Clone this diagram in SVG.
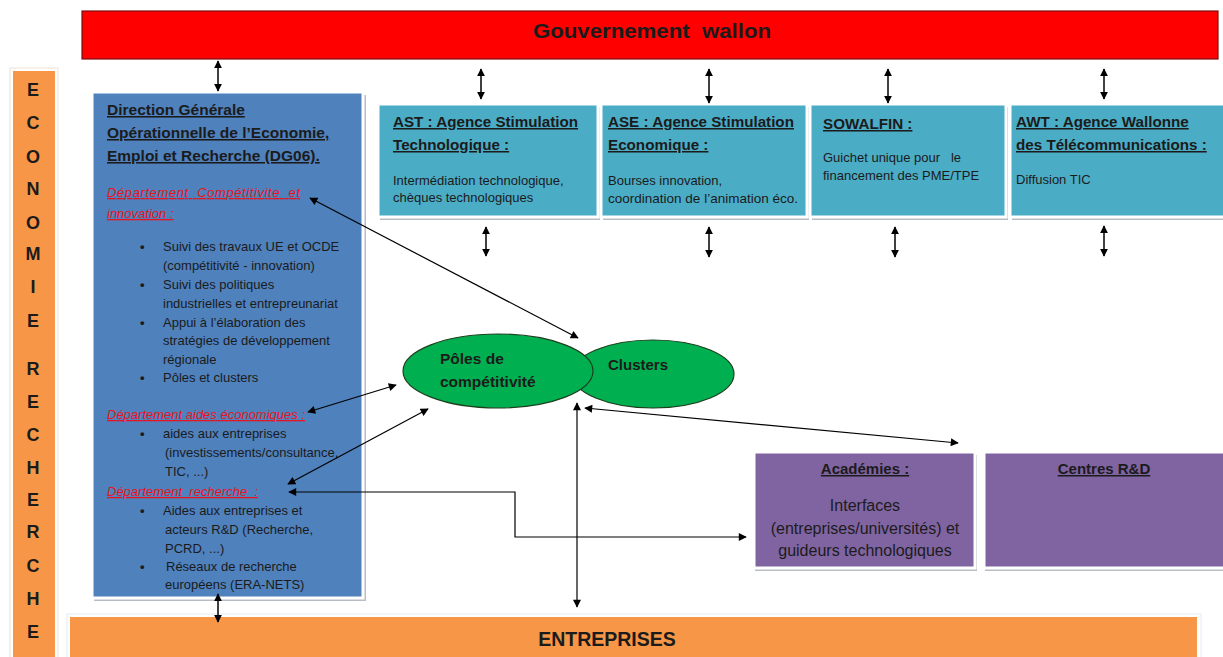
<svg xmlns="http://www.w3.org/2000/svg" width="1223" height="657" viewBox="0 0 1223 657">
<defs>
<marker id="ah" viewBox="0 0 10 10" refX="9" refY="5" markerWidth="9" markerHeight="8" markerUnits="userSpaceOnUse" orient="auto-start-reverse">
<path d="M0,0 L10,5 L0,10 z" fill="#000"/>
</marker>
<marker id="ahs" viewBox="0 0 10 10" refX="9" refY="5" markerWidth="8" markerHeight="8" markerUnits="userSpaceOnUse" orient="auto-start-reverse">
<path d="M0,0 L10,5 L0,10 z" fill="#000"/>
</marker>
</defs>
<style>
text{font-family:"Liberation Sans",Arial,sans-serif;fill:#1b1b1b}
.t{font-weight:bold;font-size:15.5px;text-decoration:underline}
.tc{font-weight:bold;font-size:15.2px;text-decoration:underline}
.b{font-size:13px}
.d{font-size:13px;font-weight:bold}
.s{font-size:13px}
.r{font-size:13px;font-style:italic;fill:#e8141e;text-decoration:underline}
.L{font-weight:bold;font-size:18px;text-anchor:middle}
.shadow{fill:#b8bcc4}
.cy{fill:#4bacc6;stroke:#fff;stroke-width:3}
.pu{fill:#8064a2;stroke:#fff;stroke-width:3}
.c{fill:none;stroke:#000;stroke-width:1.2;marker-start:url(#ah);marker-end:url(#ah)}
.v{fill:none;stroke:#000;stroke-width:1.5;marker-start:url(#ahs);marker-end:url(#ahs)}
.el{fill:#00b050;stroke:#1e3f1e;stroke-width:1.2}
</style>
<rect width="1223" height="657" fill="#fff"/>

<g id="gouvernement">
<rect x="82" y="11" width="1136" height="48" fill="#ff0000" stroke="#7a1010" stroke-width="1.2"/>
<text x="533" y="38" font-size="20" font-weight="bold" fill="#3a0606" textLength="238" lengthAdjust="spacingAndGlyphs" xml:space="preserve">Gouvernement  wallon</text>
</g>

<g id="economie-recherche">
<rect x="10" y="68" width="48" height="592" fill="#fff" stroke="#f2e2d2" stroke-width="1"/>
<rect x="13" y="71" width="42" height="590" fill="#f79646"/>
<text class="L" x="33" y="96">E</text>
<text class="L" x="33" y="129">C</text>
<text class="L" x="33" y="163">O</text>
<text class="L" x="33" y="195">N</text>
<text class="L" x="33" y="229">O</text>
<text class="L" x="33" y="260">M</text>
<text class="L" x="33" y="293">I</text>
<text class="L" x="33" y="327">E</text>
<text class="L" x="33" y="375">R</text>
<text class="L" x="33" y="408">E</text>
<text class="L" x="33" y="441">C</text>
<text class="L" x="33" y="474">H</text>
<text class="L" x="33" y="506">E</text>
<text class="L" x="33" y="538">R</text>
<text class="L" x="33" y="572">C</text>
<text class="L" x="33" y="605">H</text>
<text class="L" x="33" y="638">E</text>
</g>

<g id="dg06">
<rect class="shadow" x="94" y="95" width="272" height="506"/>
<rect x="92" y="92" width="271" height="506" fill="#4f81bd" stroke="#fff" stroke-width="3"/>
<text class="t" x="107" y="115">Direction Générale</text>
<text class="t" x="107" y="138">Opérationnelle de l’Economie,</text>
<text class="t" x="107" y="161">Emploi et Recherche (DG06).</text>
<text class="r" x="107" y="197" textLength="193" lengthAdjust="spacing" xml:space="preserve">Département  Compétitivite  et</text>
<text class="r" x="107" y="218">innovation :</text>
<g class="b">
<text class="d" x="140" y="251">•</text><text x="163" y="251">Suivi des travaux UE et OCDE</text>
<text x="163" y="270">(compétitivité - innovation)</text>
<text class="d" x="140" y="289">•</text><text x="163" y="289">Suivi des politiques</text>
<text x="163" y="308">industrielles et entrepreunariat</text>
<text class="d" x="140" y="327">•</text><text x="163" y="327">Appui à l’élaboration des</text>
<text x="163" y="345">stratégies de développement</text>
<text x="163" y="364">régionale</text>
<text class="d" x="140" y="382">•</text><text x="163" y="382">Pôles et clusters</text>
</g>
<text class="r" x="107" y="419" textLength="198" lengthAdjust="spacing">Département aides économiques :</text>
<g class="b">
<text class="d" x="140" y="438">•</text><text x="163" y="438">aides aux entreprises</text>
<text x="165" y="457">(investissements/consultance,</text>
<text x="165" y="476">TIC, ...)</text>
</g>
<text class="r" x="107" y="496" xml:space="preserve">Département  recherche  :</text>
<g class="b">
<text class="d" x="140" y="515">•</text><text x="163" y="515">Aides aux entreprises et</text>
<text x="165" y="534">acteurs R&amp;D (Recherche,</text>
<text x="165" y="553">PCRD, ...)</text>
<text class="d" x="140" y="571">•</text><text x="166" y="571">Réseaux de recherche</text>
<text x="165" y="589">européens (ERA-NETS)</text>
</g>
</g>

<g id="ast">
<rect class="shadow" x="380" y="107" width="220" height="113"/>
<rect class="cy" x="378" y="104" width="220" height="113"/>
<text class="tc" x="393" y="127">AST : Agence Stimulation</text>
<text class="tc" x="393" y="150">Technologique :</text>
<text class="s" x="393" y="185">Intermédiation technologique,</text>
<text class="s" x="393" y="202">chèques technologiques</text>
</g>
<g id="ase">
<rect class="shadow" x="603" y="107" width="206" height="113"/>
<rect class="cy" x="601" y="104" width="206" height="113"/>
<text class="tc" x="608" y="127">ASE : Agence Stimulation</text>
<text class="tc" x="608" y="150">Economique :</text>
<text class="s" x="608" y="185">Bourses innovation,</text>
<text class="s" x="608" y="203" textLength="190" lengthAdjust="spacingAndGlyphs">coordination de l’animation éco.</text>
</g>
<g id="sowalfin">
<rect class="shadow" x="812" y="107" width="196" height="113"/>
<rect class="cy" x="810" y="104" width="196" height="113"/>
<text class="tc" x="823" y="129">SOWALFIN :</text>
<text class="s" x="823" y="162" xml:space="preserve">Guichet unique pour   le</text>
<text class="s" x="823" y="180">financement des PME/TPE</text>
</g>
<g id="awt">
<rect class="shadow" x="1012" y="107" width="215" height="113"/>
<rect class="cy" x="1010" y="104" width="215" height="113"/>
<text class="tc" x="1016" y="127">AWT : Agence Wallonne</text>
<text class="tc" x="1016" y="150">des Télécommunications :</text>
<text class="s" x="1016" y="184">Diffusion TIC</text>
</g>

<g id="academies">
<rect class="shadow" x="755" y="455" width="222" height="116"/>
<rect class="pu" x="754" y="452" width="221" height="116"/>
<text x="865" y="474" text-anchor="middle" font-size="15" font-weight="bold" text-decoration="underline">Académies :</text>
<text x="865" y="511" text-anchor="middle" font-size="16">Interfaces</text>
<text x="865" y="534" text-anchor="middle" font-size="16">(entreprises/universités) et</text>
<text x="865" y="556" text-anchor="middle" font-size="16">guideurs technologiques</text>
</g>
<g id="centres-rd">
<rect class="shadow" x="985" y="455" width="240" height="116"/>
<rect class="pu" x="984" y="452" width="241" height="116"/>
<text x="1104" y="474" text-anchor="middle" font-size="15" font-weight="bold" text-decoration="underline">Centres R&amp;D</text>
</g>

<g id="entreprises">
<rect x="67" y="614" width="1134" height="46" fill="#fff" stroke="#e4ecf4" stroke-width="1"/>
<rect x="70" y="617" width="1127" height="43" fill="#f79646"/>
<text x="607" y="646" text-anchor="middle" font-size="19.5" font-weight="bold" fill="#1f1208">ENTREPRISES</text>
</g>

<g id="clusters">
<ellipse class="el" cx="653" cy="374" rx="81" ry="34"/>
<text x="608" y="370" font-size="15" font-weight="bold" fill="#173017">Clusters</text>
</g>
<g id="poles">
<ellipse class="el" cx="498" cy="371" rx="95" ry="37"/>
<text x="440" y="364" font-size="15.5" font-weight="bold" fill="#173017">Pôles de</text>
<text x="440" y="387" font-size="15.5" font-weight="bold" fill="#173017">compétitivité</text>
</g>

<g id="connectors">
<line class="v" x1="218" y1="61" x2="218" y2="91"/>
<line class="v" x1="481" y1="69" x2="481" y2="99"/>
<line class="v" x1="709" y1="69" x2="709" y2="103"/>
<line class="v" x1="888" y1="69" x2="888" y2="103"/>
<line class="v" x1="1104" y1="69" x2="1104" y2="99"/>
<line class="v" x1="486" y1="227" x2="486" y2="256"/>
<line class="v" x1="709" y1="227" x2="709" y2="257"/>
<line class="v" x1="895" y1="227" x2="895" y2="257"/>
<line class="v" x1="1104" y1="226" x2="1104" y2="256"/>
<line class="v" x1="218" y1="594" x2="218" y2="622"/>
<line class="c" x1="310" y1="198" x2="578" y2="338"/>
<line class="c" x1="308" y1="412" x2="396" y2="385"/>
<line class="c" x1="288" y1="484" x2="428" y2="409"/>
<polyline class="c" points="289,492 515,492 515,537 746,537"/>
<line class="c" x1="577" y1="403" x2="577" y2="607"/>
<line class="c" x1="585" y1="408" x2="958" y2="443"/>
</g>
</svg>
